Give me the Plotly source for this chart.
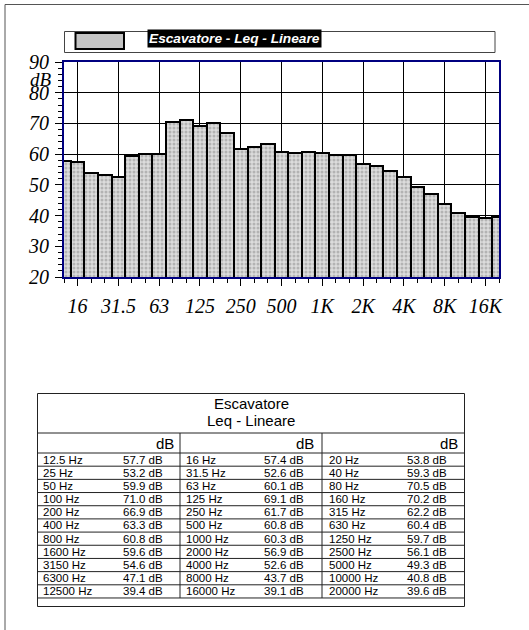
import plotly.graph_objects as go

# Third-octave band centre frequencies (Hz) and measured linear Leq (dB)
freqs = [12.5, 16, 20, 25, 31.5, 40, 50, 63, 80, 100, 125, 160, 200, 250, 315,
         400, 500, 630, 800, 1000, 1250, 1600, 2000, 2500, 3150, 4000, 5000,
         6300, 8000, 10000, 12500, 16000, 20000]
leq_db = [57.7, 57.4, 53.8, 53.2, 52.6, 59.3, 59.9, 60.1, 70.5, 71.0, 69.1, 70.2,
          66.9, 61.7, 62.2, 63.3, 60.8, 60.4, 60.8, 60.3, 59.7, 59.6, 56.9, 56.1,
          54.6, 52.6, 49.3, 47.1, 43.7, 40.8, 39.4, 39.1, 39.6]

# Octave labels shown on the frequency axis
major_labels = ["16", "31.5", "63", "125", "250", "500", "1K", "2K", "4K", "8K", "16K"]
major_freqs = [16, 31.5, 63, 125, 250, 500, 1000, 2000, 4000, 8000, 16000]
y_ticks = [20, 30, 40, 50, 60, 70, 80, 90]

series_name = "Escavatore - Leq - Lineare"
table_title = ["Escavatore", "Leq - Lineare"]

W, H = 529, 630
L, R, T, B = 64, 499, 62, 277  # plot area in pixels

band_idx = list(range(len(freqs)))
major_idx = [freqs.index(f) for f in major_freqs]


def px(x):
    return (x - L) / (R - L)


def py(y):
    return (B - y) / (B - T)


fig = go.Figure()
fig.add_trace(go.Bar(
    x=band_idx, y=leq_db, width=1.0,
    marker=dict(color="#c4c4c4",
                line=dict(color="black", width=2),
                pattern=dict(shape=".", fgcolor="#8a8a8a", bgcolor="#dcdcdc",
                             size=4, solidity=0.45)),
    showlegend=False, hoverinfo="skip",
))

serif = "Liberation Serif, Times New Roman, serif"
sans = "Liberation Sans, Arial, sans-serif"
navy = "#000080"
tick_font = dict(family=serif, size=20, color="black")

fig.update_layout(
    width=W, height=H, autosize=False,
    margin=dict(l=L, r=W - R, t=T, b=H - B, pad=0),
    paper_bgcolor="white", plot_bgcolor="white",
    bargap=0,
    xaxis=dict(range=[0, 32], tickmode="array", tickvals=major_idx,
               ticktext=[f"<i>{t}</i>" for t in major_labels],
               ticks="outside", ticklen=7, tickcolor="black", tickwidth=1,
               showgrid=True, gridcolor="black", gridwidth=1, zeroline=False,
               showline=True, linecolor=navy, linewidth=2, mirror=True,
               tickfont=tick_font, ticklabelstandoff=3,
               minor=dict(tickmode="linear", tick0=0, dtick=1, ticks="outside",
                          ticklen=4, tickcolor="black", showgrid=False)),
    yaxis=dict(range=[20, 90], tickmode="array", tickvals=y_ticks,
               ticktext=[f"<i>{v}</i>" for v in y_ticks],
               ticks="outside", ticklen=7, tickcolor="black", tickwidth=1,
               showgrid=True, gridcolor="black", gridwidth=1, zeroline=False,
               showline=True, linecolor=navy, linewidth=2, mirror=True,
               tickfont=tick_font, ticklabelstandoff=2,
               minor=dict(tickmode="linear", tick0=20, dtick=2, ticks="outside",
                          ticklen=4, tickcolor="black", showgrid=False)),
)

shapes = []
ann = []

# page frame
shapes.append(dict(type="rect", xref="paper", yref="paper",
                   x0=px(5), x1=px(560), y0=py(4.5), y1=py(660),
                   line=dict(color="#555555", width=1), fillcolor="rgba(0,0,0,0)", layer="below"))

# y-axis unit
ann.append(dict(xref="paper", yref="paper", x=px(54), y=py(79), xanchor="right", yanchor="middle",
                text="<i>dB</i>", showarrow=False,
                font=dict(family=serif, size=19, color="black")))

# legend box
shapes.append(dict(type="rect", xref="paper", yref="paper",
                   x0=px(64.5), x1=px(495), y0=py(31.5), y1=py(52.5),
                   line=dict(color="#444444", width=1), fillcolor="white"))
shapes.append(dict(type="rect", xref="paper", yref="paper",
                   x0=px(75.5), x1=px(124), y0=py(33), y1=py(49),
                   line=dict(color="black", width=2), fillcolor="#c4c4c4"))
ann.append(dict(xref="paper", yref="paper", x=px(147), y=py(38.5), xanchor="left", yanchor="middle",
                text="<b><i>" + series_name + "</i></b>", showarrow=False,
                bgcolor="black", borderpad=1,
                font=dict(family=sans, size=13.7, color="white")))

# summary table
tx0, tx1 = 37.5, 464.5
ty0, ty1 = 393.5, 606.5
y_title_sep, y_head = 433, 453
row_h = 13.18
n_rows = len(freqs) // 3
y_rows_end = y_head + n_rows * row_h
col_sep = [180, 322]
lab_x = [41, 184, 327]
val_x = [165, 306, 449]
db_x = [176, 316, 460]
line_c = dict(color="#222222", width=1)

shapes.append(dict(type="rect", xref="paper", yref="paper",
                   x0=px(tx0), x1=px(tx1), y0=py(ty0), y1=py(ty1),
                   line=line_c, fillcolor="rgba(0,0,0,0)"))
for yy in [y_title_sep, y_head] + [y_head + (k + 1) * row_h for k in range(n_rows)]:
    shapes.append(dict(type="line", xref="paper", yref="paper",
                       x0=px(tx0), x1=px(tx1), y0=py(yy), y1=py(yy), line=line_c))
for xx in col_sep:
    shapes.append(dict(type="line", xref="paper", yref="paper",
                       x0=px(xx), x1=px(xx), y0=py(y_title_sep), y1=py(y_rows_end), line=line_c))

for i, t in enumerate(table_title):
    ann.append(dict(xref="paper", yref="paper", x=px((tx0 + tx1) / 2), y=py(403.5 + 17 * i),
                    xanchor="center", yanchor="middle", text=t, showarrow=False,
                    font=dict(family=sans, size=15, color="black")))
for c in range(3):
    ann.append(dict(xref="paper", yref="paper", x=px(db_x[c]), y=py(443),
                    xanchor="right", yanchor="middle", text="dB", showarrow=False,
                    font=dict(family=sans, size=15, color="black")))

for k in range(n_rows):
    yc = y_head + (k + 0.5) * row_h
    for c in range(3):
        i = 3 * k + c
        ann.append(dict(xref="paper", yref="paper", x=px(lab_x[c]), y=py(yc),
                        xanchor="left", yanchor="middle", text=f"{freqs[i]:g} Hz", showarrow=False,
                        font=dict(family=sans, size=11.5, color="black")))
        ann.append(dict(xref="paper", yref="paper", x=px(val_x[c]), y=py(yc),
                        xanchor="right", yanchor="middle", text=f"{leq_db[i]:.1f} dB", showarrow=False,
                        font=dict(family=sans, size=11.5, color="black")))

fig.update_layout(shapes=shapes, annotations=ann)
fig.write_html("out.html")
